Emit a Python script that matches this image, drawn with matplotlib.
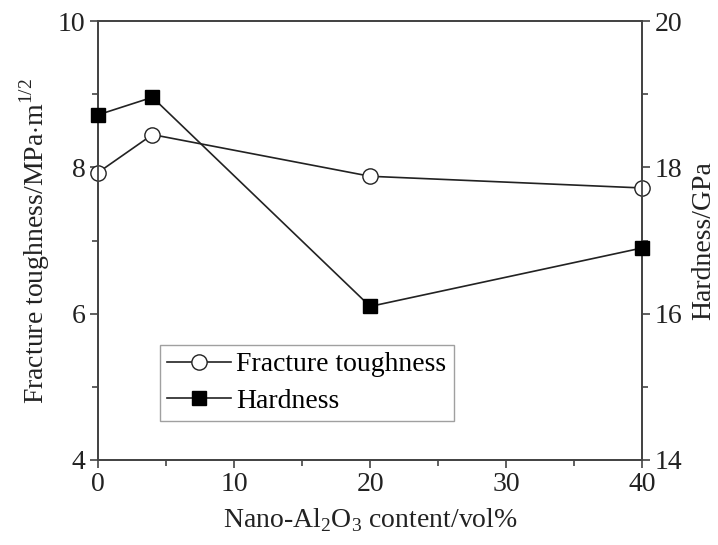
import matplotlib.pyplot as plt
from matplotlib.ticker import MultipleLocator

plt.rcParams['font.family'] = ['Liberation Serif', 'DejaVu Serif']
plt.rcParams['mathtext.fontset'] = 'custom'
plt.rcParams['mathtext.rm'] = 'Liberation Serif'

# nano-Al2O3 content (vol%) and measured properties
content = [0, 4, 20, 40]
toughness = [7.93, 8.45, 7.88, 7.72]
hardness = [18.72, 18.96, 16.1, 16.9]

fig = plt.figure(figsize=[7.18, 5.45], dpi=100)
ax1 = fig.add_axes([0.1365, 0.156, 0.758, 0.805])
ax2 = ax1.twinx()

l1, = ax1.plot(content, toughness, 'o-', color='#222222', lw=1.2, ms=11,
               mfc='white', mec='#222222', mew=1.0, clip_on=False, zorder=3,
               label='Fracture toughness')
l2, = ax2.plot(content, hardness, 's-', color='#222222', lw=1.2, ms=10,
               mfc='black', mec='black', clip_on=False, zorder=3,
               label='Hardness')

ax1.set_xlim(0, 40)
ax1.set_ylim(4, 10)
ax2.set_ylim(14, 20)
ax1.xaxis.set_major_locator(MultipleLocator(10))
ax1.xaxis.set_minor_locator(MultipleLocator(5))
ax1.yaxis.set_major_locator(MultipleLocator(2))
ax1.yaxis.set_minor_locator(MultipleLocator(1))
ax2.yaxis.set_major_locator(MultipleLocator(2))
ax2.yaxis.set_minor_locator(MultipleLocator(1))

for ax in (ax1, ax2):
    for sp in ax.spines.values():
        sp.set_color('#444444')
        sp.set_linewidth(1.3)
    ax.tick_params(which='both', direction='out', colors='#444444',
                   labelcolor='#222222', labelsize=20, width=1.2, pad=3)
    ax.tick_params(which='major', length=6)
    ax.tick_params(which='minor', length=4)
ax1.tick_params(axis='x', which='both', top=False)

ax1.set_xlabel(r'Nano-Al$_2$O$_3$ content/vol%', fontsize=20, color='#222222',
               labelpad=6)
ax1.set_ylabel(r'Fracture toughness/MPa$\cdot$m$^{1/2}$', fontsize=20,
               color='#222222', labelpad=4)
ax2.set_ylabel('Hardness/GPa', fontsize=20, color='#222222', labelpad=6)

# legend holds both series, placed in the lower-left of the plot area
leg = ax1.legend(handles=[l1, l2], loc='lower left',
                 bbox_to_anchor=(0.114, 0.089), borderaxespad=0,
                 fontsize=20, frameon=True, fancybox=False,
                 edgecolor='#888888', handlelength=2.3, handletextpad=0.2,
                 borderpad=0.25, labelspacing=0.4)
leg.get_frame().set_linewidth(1.0)

fig.savefig('out.png', dpi=100)
